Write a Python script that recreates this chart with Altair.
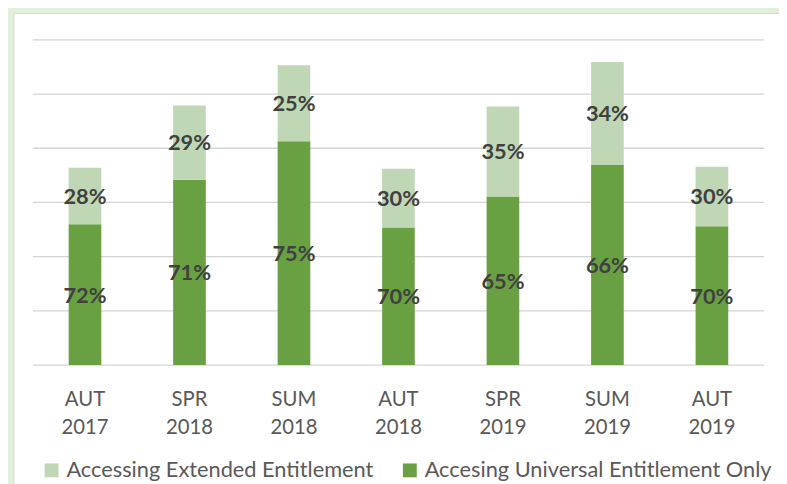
import altair as alt
import pandas as pd

periods = ["AUT 2017", "SPR 2018", "SUM 2018", "AUT 2018", "SPR 2019", "SUM 2019", "AUT 2019"]
universal = [260, 342, 413, 254, 311, 369, 256]
extended = [104, 137, 140, 108, 166, 190, 110]
universal_pct = [72, 71, 75, 70, 65, 66, 70]
extended_pct = [28, 29, 25, 30, 35, 34, 30]
grid_values = [0, 100, 200, 300, 400, 500, 600]

S_EXT = "Accessing Extended Entitlement"
S_UNI = "Accesing Universal Entitlement Only"

rows = []
for p, u, e, up, ep in zip(periods, universal, extended, universal_pct, extended_pct):
    rows.append({"period": p, "series": S_UNI, "value": u, "label": f"{up}%", "order": 0})
    rows.append({"period": p, "series": S_EXT, "value": e, "label": f"{ep}%", "order": 1})
df = pd.DataFrame(rows)

yscale = alt.Scale(domain=[0, 600], nice=False, zero=True)
xscale = alt.Scale(domain=periods, paddingInner=0.6875, paddingOuter=0.34375)
FONT = "Lato"

panel = alt.Chart(pd.DataFrame({"a": [0]})).mark_rect(
    fill="white", stroke="#D9D9D9", strokeWidth=1
).encode(x=alt.value(-19), x2=alt.value(800), y=alt.value(-26.7), y2=alt.value(520))

grid = alt.Chart(pd.DataFrame({"g": grid_values})).mark_rule(
    color="#D4D4D4", strokeWidth=1.3
).encode(y=alt.Y("g:Q", scale=yscale, axis=None))

bars = alt.Chart(df).mark_bar().encode(
    x=alt.X("period:N", scale=xscale, sort=periods,
            axis=alt.Axis(title=None, ticks=False, domain=False, grid=False, zindex=2,
                          labelAngle=0, labelFont=FONT, labelFontSize=20.5,
                          labelColor="#595959", labelPadding=24.5, labelLineHeight=29,
                          labelExpr="split(datum.label, ' ')")),
    y=alt.Y("value:Q", stack="zero", scale=yscale, axis=None),
    color=alt.Color("series:N",
                    scale=alt.Scale(domain=[S_EXT, S_UNI], range=["#BFD7B5", "#69A142"]),
                    legend=alt.Legend(title=None, orient="none", legendX=8, legendY=424,
                                      direction="horizontal", symbolType="square",
                                      symbolSize=196, symbolStrokeWidth=0,
                                      labelFont=FONT, labelFontSize=22, labelLimit=500,
                                      labelColor="#595959", labelOffset=4,
                                      columnPadding=25, padding=0, zindex=2)),
    order=alt.Order("order:Q"),
)

texts = alt.Chart(df).transform_stack(
    stack="value", groupby=["period"], as_=["y0", "y1"], sort=[alt.SortField("order")]
).transform_calculate(mid="(datum.y0 + datum.y1) / 2").mark_text(
    font=FONT, fontSize=22, fontWeight="bold", color="#404040", baseline="middle", dy=1
).encode(
    x=alt.X("period:N", scale=xscale, sort=periods),
    y=alt.Y("mid:Q", scale=yscale, axis=None),
    text="label:N",
)

chart = alt.layer(panel, grid, bars, texts).properties(
    width=739, height=328.6,
    padding={"left": 25, "top": 29.7, "right": 15, "bottom": 117.7},
    autosize=alt.AutoSizeParams(type="none"),
    background="#E2EFDA",
).configure_view(strokeWidth=0)

chart.save("out.html", embed_options={"renderer": "svg", "actions": False})
